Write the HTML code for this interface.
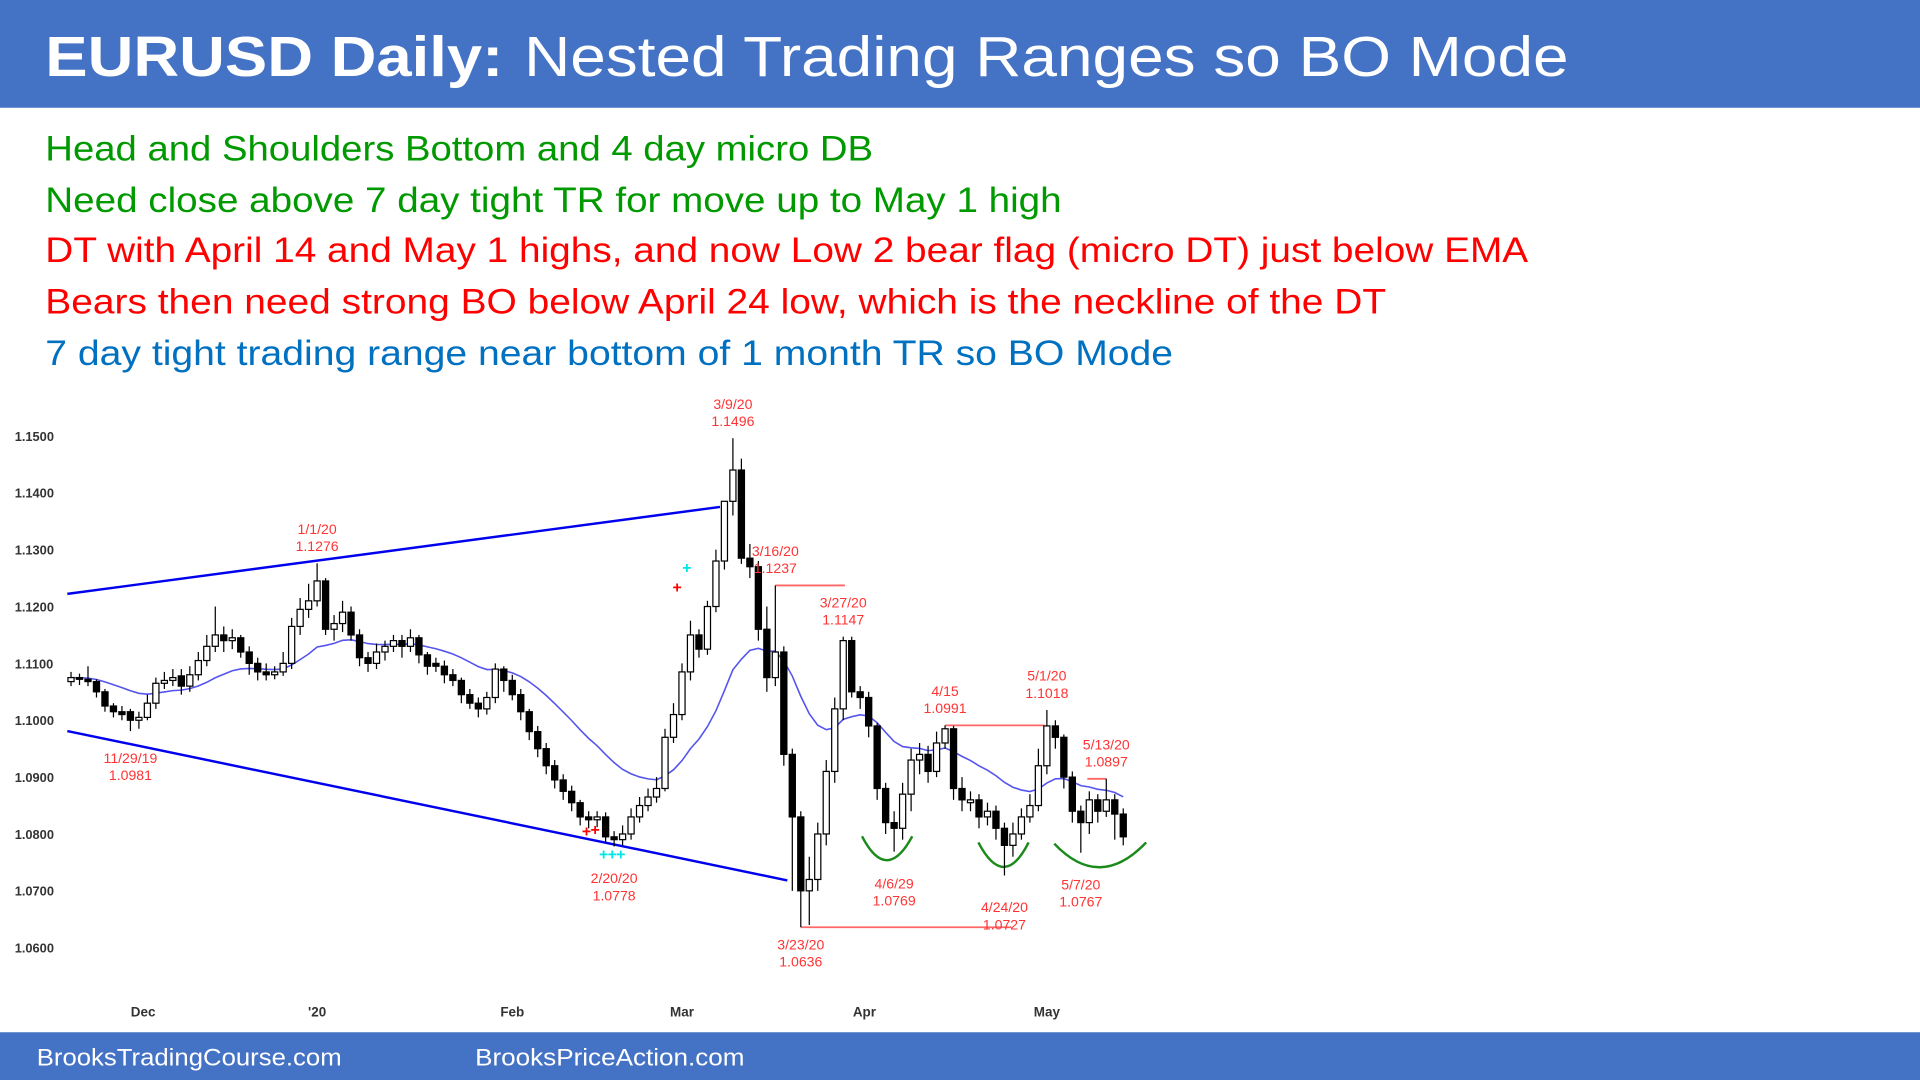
<!DOCTYPE html>
<html><head><meta charset="utf-8"><style>
html,body{margin:0;padding:0;background:#fff;width:1920px;height:1080px;overflow:hidden}
svg{display:block}
</style></head><body>
<svg id="chart" width="1920" height="1080" viewBox="0 0 1568 882" xmlns="http://www.w3.org/2000/svg" font-family="Liberation Sans, Arial, sans-serif">
<rect x="0" y="0" width="1568" height="88" fill="#4472C4"/>
<text x="37" y="62" fill="#fff" font-size="46"><tspan font-weight="bold" textLength="374" lengthAdjust="spacingAndGlyphs">EURUSD Daily:</tspan><tspan x="428" textLength="853" lengthAdjust="spacingAndGlyphs">Nested Trading Ranges so BO Mode</tspan></text>
<g font-size="29">
<text x="37" y="131" fill="#009900" textLength="676" lengthAdjust="spacingAndGlyphs">Head and Shoulders Bottom and 4 day micro DB</text>
<text x="37" y="173" fill="#009900" textLength="830" lengthAdjust="spacingAndGlyphs">Need close above 7 day tight TR for move up to May 1 high</text>
<text x="37" y="214" fill="#FF0000" textLength="1211" lengthAdjust="spacingAndGlyphs">DT with April 14 and May 1 highs, and now Low 2 bear flag (micro DT) just below EMA</text>
<text x="37" y="256" fill="#FF0000" textLength="1095" lengthAdjust="spacingAndGlyphs">Bears then need strong BO below April 24 low, which is the neckline of the DT</text>
<text x="37" y="298" fill="#0070C0" textLength="921" lengthAdjust="spacingAndGlyphs">7 day tight trading range near bottom of 1 month TR so BO Mode</text>
</g>
<g id="yaxis"></g>
<g id="xaxis"></g>
<g id="lines"></g>
<g id="ema"></g>
<g id="candles"></g>
<g id="labels" font-size="11.5" fill="#FF3333" text-anchor="middle"></g>
<rect x="0" y="843" width="1568" height="39" fill="#4472C4"/>
<text x="30" y="870" fill="#fff" font-size="20" textLength="249" lengthAdjust="spacingAndGlyphs">BrooksTradingCourse.com</text>
<text x="388" y="870" fill="#fff" font-size="20" textLength="220" lengthAdjust="spacingAndGlyphs">BrooksPriceAction.com</text>
</svg>
<script>
const opens=[1.1068,1.1075,1.1072,1.1068,1.1050,1.1025,1.1015,1.1015,1.1000,1.1005,1.1030,1.1065,1.1070,1.1078,1.1060,1.1080,1.1105,1.1130,1.1150,1.1140,1.1145,1.1120,1.1100,1.1085,1.1080,1.1085,1.1100,1.1165,1.1195,1.1210,1.1245,1.1160,1.1170,1.1190,1.1150,1.1110,1.1100,1.1120,1.1130,1.1140,1.1130,1.1145,1.1115,1.1100,1.1095,1.1080,1.1070,1.1045,1.1030,1.1020,1.1040,1.1090,1.1070,1.1045,1.1015,1.0980,1.0950,1.0920,1.0895,1.0875,1.0855,1.0830,1.0825,1.0830,1.0795,1.0790,1.0800,1.0830,1.0850,1.0865,1.0880,1.0970,1.1010,1.1085,1.1150,1.1125,1.1200,1.1280,1.1385,1.1440,1.1285,1.1270,1.1160,1.1075,1.1120,1.0940,1.0830,1.0700,1.0720,1.0800,1.0910,1.1020,1.1140,1.1050,1.1040,1.0990,1.0880,1.0820,1.0810,1.0870,1.0930,1.0940,1.0910,1.0960,1.0985,1.0880,1.0855,1.0860,1.0830,1.0840,1.0810,1.0780,1.0800,1.0830,1.0850,1.0920,1.0990,1.0970,1.0900,1.0840,1.0820,1.0860,1.0840,1.0860,1.0835];
const highs=[1.1085,1.1082,1.1095,1.1072,1.1055,1.1030,1.1025,1.1020,1.1015,1.1045,1.1075,1.1085,1.1090,1.1090,1.1095,1.1120,1.1150,1.1200,1.1165,1.1160,1.1150,1.1130,1.1110,1.1100,1.1095,1.1120,1.1180,1.1215,1.1240,1.1276,1.1250,1.1185,1.1210,1.1200,1.1160,1.1120,1.1135,1.1140,1.1150,1.1150,1.1160,1.1150,1.1120,1.1110,1.1105,1.1090,1.1075,1.1055,1.1040,1.1050,1.1100,1.1095,1.1080,1.1055,1.1020,1.0990,1.0960,1.0930,1.0905,1.0885,1.0860,1.0840,1.0840,1.0838,1.0805,1.0815,1.0845,1.0865,1.0880,1.0900,1.0985,1.1030,1.1100,1.1175,1.1160,1.1210,1.1300,1.1375,1.1496,1.1460,1.1310,1.1280,1.1200,1.1237,1.1130,1.0950,1.0840,1.0760,1.0820,1.0930,1.1040,1.1147,1.1147,1.1060,1.1050,1.0995,1.0890,1.0840,1.0890,1.0950,1.0960,1.0955,1.0980,1.0991,1.0990,1.0900,1.0875,1.0870,1.0855,1.0850,1.0820,1.0820,1.0845,1.0870,1.0950,1.1018,1.1000,1.0975,1.0910,1.0850,1.0875,1.0870,1.0897,1.0870,1.0845];
const lows=[1.1060,1.1062,1.1060,1.1040,1.1015,1.1005,1.1000,1.0981,1.0985,1.1000,1.1020,1.1055,1.1060,1.1045,1.1050,1.1070,1.1095,1.1120,1.1120,1.1125,1.1110,1.1080,1.1070,1.1070,1.1072,1.1078,1.1090,1.1150,1.1180,1.1200,1.1150,1.1140,1.1155,1.1140,1.1095,1.1085,1.1090,1.1105,1.1120,1.1110,1.1120,1.1100,1.1080,1.1085,1.1065,1.1060,1.1030,1.1020,1.1005,1.1010,1.1030,1.1050,1.1035,1.1000,1.0965,1.0935,1.0905,1.0880,1.0860,1.0840,1.0815,1.0810,1.0812,1.0785,1.0778,1.0780,1.0790,1.0820,1.0840,1.0855,1.0875,1.0960,1.1000,1.1070,1.1110,1.1115,1.1190,1.1265,1.1360,1.1275,1.1250,1.1140,1.1050,1.1060,1.0920,1.0700,1.0636,1.0640,1.0700,1.0780,1.0890,1.1000,1.1040,1.1020,1.0970,1.0860,1.0800,1.0769,1.0790,1.0840,1.0905,1.0890,1.0900,1.0950,1.0860,1.0840,1.0840,1.0810,1.0815,1.0790,1.0727,1.0760,1.0790,1.0820,1.0840,1.0905,1.0950,1.0880,1.0820,1.0767,1.0800,1.0820,1.0830,1.0790,1.0780];
const closes=[1.1075,1.1072,1.1068,1.1050,1.1025,1.1015,1.1010,1.1000,1.1005,1.1030,1.1065,1.1070,1.1075,1.1060,1.1080,1.1105,1.1130,1.1150,1.1140,1.1145,1.1120,1.1100,1.1085,1.1080,1.1085,1.1100,1.1165,1.1195,1.1210,1.1245,1.1160,1.1170,1.1190,1.1150,1.1110,1.1100,1.1120,1.1130,1.1140,1.1130,1.1145,1.1115,1.1095,1.1095,1.1080,1.1070,1.1045,1.1030,1.1020,1.1040,1.1090,1.1070,1.1045,1.1015,1.0980,1.0950,1.0920,1.0895,1.0875,1.0855,1.0830,1.0825,1.0830,1.0795,1.0790,1.0800,1.0830,1.0850,1.0865,1.0880,1.0970,1.1010,1.1085,1.1150,1.1125,1.1200,1.1280,1.1385,1.1440,1.1285,1.1270,1.1160,1.1075,1.1120,1.0940,1.0830,1.0700,1.0720,1.0800,1.0910,1.1020,1.1140,1.1050,1.1040,1.0990,1.0880,1.0820,1.0810,1.0870,1.0930,1.0940,1.0910,1.0960,1.0985,1.0880,1.0860,1.0860,1.0830,1.0840,1.0810,1.0780,1.0800,1.0830,1.0850,1.0920,1.0990,1.0970,1.0900,1.0840,1.0820,1.0860,1.0840,1.0860,1.0835,1.0795];
const yTicks=[1.15,1.14,1.13,1.12,1.11,1.10,1.09,1.08,1.07,1.06];
const xTickLabels=["Dec","'20","Feb","Mar","Apr","May"];
const xTickIdx=[8.5,29,52,72,93.5,115];
const noteLabels=[["3/9/20","1.1496",78],["1/1/20","1.1276",29],["3/16/20","1.1237",83],["3/27/20","1.1147",91],["4/15","1.0991",103],["5/1/20","1.1018",115],["5/13/20","1.0897",122]];
const lowLabels=[["11/29/19","1.0981",7],["2/20/20","1.0778",64],["3/23/20","1.0636",86],["4/6/29","1.0769",97],["4/24/20","1.0727",110],["5/7/20","1.0767",119]];

const NS="http://www.w3.org/2000/svg";
function X(i){return 58+i*6.93;}
function Y(p){return 356+(1.15-p)*4644;}
function mk(tag,attrs,parent){const e=document.createElementNS(NS,tag);for(const k in attrs)e.setAttribute(k,attrs[k]);parent.appendChild(e);return e;}
const ya=document.getElementById('yaxis');
yTicks.forEach(t=>{const e=mk('text',{x:12,y:Y(t)+4,'font-size':10.5,'font-weight':'bold',fill:'#333'},ya);e.textContent=t.toFixed(4);

});
const xa=document.getElementById('xaxis');
xTickLabels.forEach((t,k)=>{const e=mk('text',{x:X(xTickIdx[k]),y:830,'font-size':11,'font-weight':'bold',fill:'#333','text-anchor':'middle'},xa);e.textContent=t;

});
const ln=document.getElementById('lines');
function line(x1,y1,x2,y2,c,w,name){const e=mk('line',{x1,y1,x2,y2,stroke:c,'stroke-width':w},ln);

}
line(55,485,588,414,'#0000EE',2,'upper-trendline');
line(55,597,643,719,'#0000EE',2,'lower-trendline');
line(X(83),Y(highs[83]),690,Y(highs[83]),'#FF6666',1.5,'resistance-3-16');
line(X(103),Y(highs[103]),853,Y(highs[103]),'#FF6666',1.5,'resistance-4-15');
line(888,Y(highs[122]),X(122),Y(highs[122]),'#FF6666',1.5,'resistance-5-13');
line(X(86),Y(lows[86]),826,Y(lows[86]),'#FF6666',1.5,'support-3-23');
function arc(d,name){const e=mk('path',{d,fill:'none',stroke:'#1a8a1a','stroke-width':2},ln);

}
arc('M704,683 Q724,722 745,683','shoulder-arc-left');
arc('M799,688 Q820,728 840,688','head-arc');
arc('M861,689 Q898,728 936,688','shoulder-arc-right');
function plus(x,y,c){const e=mk('text',{x,y,fill:c,'font-size':13,'font-weight':'bold','text-anchor':'middle'},ln);e.textContent='+';

}
plus(561,468,'#00E5E5');plus(553,484,'#FF0000');plus(479,683,'#FF0000');plus(486,682,'#FF0000');
plus(493,702,'#00E5E5');plus(500,702,'#00E5E5');plus(507,702,'#00E5E5');
// EMA 20
const k=2/21;let e=closes[0];const pts=[];closes.forEach((c,i)=>{e=i?c*k+e*(1-k):c;pts.push(X(i).toFixed(1)+','+Y(e).toFixed(1));});
const ep=mk('polyline',{points:pts.join(' '),fill:'none',stroke:'#5555EE','stroke-width':1.3},document.getElementById('ema'));


const cg=document.getElementById('candles');
closes.forEach((c,i)=>{const o=opens[i],x=X(i);const g=mk('g',{},cg);


mk('line',{x1:x,y1:Y(highs[i]),x2:x,y2:Y(lows[i]),stroke:'#000','stroke-width':1},g);
const top=Y(Math.max(o,c)),bot=Y(Math.min(o,c));
mk('rect',{x:x-2.5,y:top,width:5,height:Math.max(bot-top,1),fill:c<o?'#000':'#fff',stroke:'#000','stroke-width':1},g);});
const lg=document.getElementById('labels');
noteLabels.forEach(([d,v,i])=>{const x=X(i),y=Y(highs[i]);const t=mk('text',{x,y:y-24},lg);t.textContent=d;


const t2=mk('text',{x,y:y-10},lg);t2.textContent=v;

});
lowLabels.forEach(([d,v,i])=>{const x=X(i),y=Y(lows[i]);let dy=i==86?18:(i==7?26:30);const t=mk('text',{x,y:y+dy},lg);t.textContent=d;


const t2=mk('text',{x,y:y+dy+14},lg);t2.textContent=v;

});
</script>
</body></html>
